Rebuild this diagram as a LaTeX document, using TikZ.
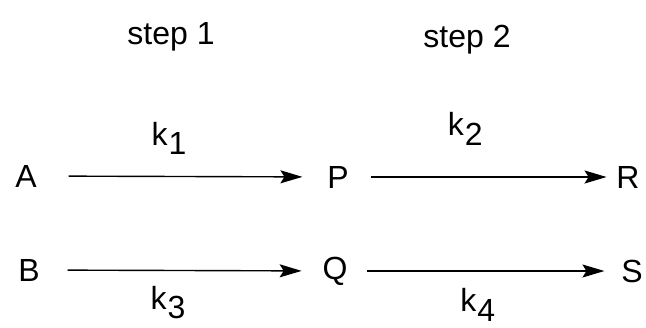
\documentclass[tikz,border=0pt]{standalone}
\usepackage{fontspec}
\setmainfont{Liberation Sans}
\usetikzlibrary{arrows.meta}
\newcommand{\rate}[1]{k\kern0.5pt\raisebox{-0.55ex}{#1}}

\begin{document}
\begin{tikzpicture}[
  x=0.5pt, y=-0.5pt,
  species/.style={inner sep=0pt, font=\fontsize{16}{18}\selectfont},
  steplabel/.style={inner sep=0pt, font=\fontsize{16}{18}\selectfont},
  ratelabel/.style={inner sep=0pt, font=\fontsize{16}{18}\selectfont},
  arrow/.style={-{Stealth[length=11pt, width=6.5pt, inset=2pt]}, line width=0.7pt},
]
  \useasboundingbox (0,0) rectangle (646,327);
  % step headers
  \node[steplabel] (step1) at (171,37) {step 1};
  \node[steplabel] (step2) at (467,40) {step 2};
  % top row
  \node[species] (A) at (26,176) {A};
  \node[species] (P) at (338,177) {P};
  \node[species] (R) at (628,177) {R};
  % bottom row
  \node[species] (B) at (29,270) {B};
  \node[species] (Q) at (335,271) {Q};
  \node[species] (S) at (632,271) {S};
  \draw[arrow, shorten <=15.75pt, shorten >=12.25pt] (A) -- node[ratelabel, pos=0.455, yshift=19pt] {\rate{1}} (P);
  \draw[arrow, shorten <=10.75pt, shorten >=4.75pt] (P) -- node[ratelabel, pos=0.435, yshift=24pt] {\rate{2}} (R);
  \draw[arrow, shorten <=13.75pt, shorten >=10.25pt] (B) -- node[ratelabel, pos=0.454, yshift=-16pt] {\rate{3}} (Q);
  \draw[arrow, shorten <=9.75pt, shorten >=8.25pt] (Q) -- node[ratelabel, pos=0.476, yshift=-17pt] {\rate{4}} (S);
\end{tikzpicture}
\end{document}
